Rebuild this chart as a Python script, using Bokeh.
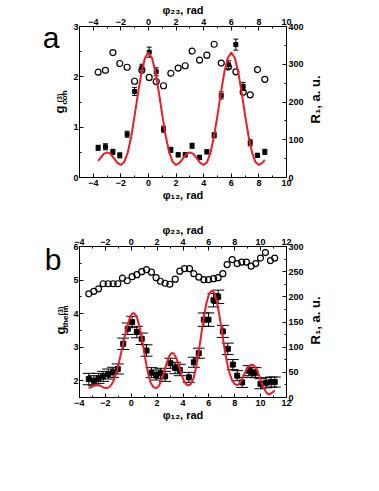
from bokeh.plotting import figure
from bokeh.models import Range1d, LinearAxis, FixedTicker, Whisker, TeeHead, ColumnDataSource, Label
from bokeh.layouts import column, row
from bokeh.embed import file_html
from bokeh.resources import INLINE

# ---------------- data: panel a ----------------
xa = [-3.65, -3.12, -2.58, -2.08, -1.55, -1.01, -0.48, 0.05, 0.56, 1.09, 1.62, 2.15,
      2.66, 3.16, 3.70, 4.23, 4.76, 5.27, 5.80, 6.33, 6.86, 7.37, 7.90, 8.43]
ga = [0.59, 0.61, 0.51, 0.44, 0.86, 1.71, 2.18, 2.49, 2.10, 0.96, 0.55, 0.45,
      0.45, 0.63, 0.40, 0.51, 0.84, 1.63, 2.24, 2.64, 1.81, 0.69, 0.44, 0.51]
ga_err = [0.05, 0.06, 0.05, 0.05, 0.06, 0.08, 0.07, 0.10, 0.08, 0.06, 0.05, 0.04,
          0.04, 0.05, 0.04, 0.04, 0.05, 0.07, 0.08, 0.11, 0.08, 0.06, 0.04, 0.05]
ra = [279, 284, 331, 302, 292, 255, 284, 265, 254, 243, 276, 290,
      296, 335, 311, 324, 353, 303, 293, 280, 226, 219, 286, 260]
xa_fit = [-3.65, -3.5, -3.25, -3.0, -2.75, -2.5, -2.25, -2.0, -1.75, -1.5, -1.25, -1.0,
          -0.75, -0.5, -0.25, 0.0, 0.25, 0.5, 0.75, 1.0, 1.25, 1.5, 1.75, 2.0, 2.25, 2.5,
          2.75, 3.0, 3.25, 3.5, 3.75, 4.0, 4.25, 4.5, 4.75, 5.0, 5.25, 5.5, 5.75, 6.0,
          6.25, 6.5, 6.75, 7.0, 7.25, 7.5, 7.75, 8.0, 8.25, 8.43]
ga_fit = [0.33, 0.38, 0.47, 0.50, 0.47, 0.38, 0.29, 0.25, 0.31, 0.50, 0.82, 1.24,
          1.69, 2.10, 2.38, 2.48, 2.38, 2.10, 1.69, 1.24, 0.82, 0.50, 0.31, 0.25, 0.29, 0.38,
          0.47, 0.50, 0.47, 0.38, 0.29, 0.25, 0.31, 0.50, 0.82, 1.24, 1.69, 2.10, 2.38, 2.48,
          2.38, 2.10, 1.69, 1.24, 0.82, 0.50, 0.31, 0.25, 0.29, 0.35]
xa_ticks = [-4, -2, 0, 2, 4, 6, 8, 10]
ga_ticks = [0, 1, 2, 3]
ra_ticks = [0, 100, 200, 300, 400]

# ---------------- data: panel b ----------------
xb_g = [-3.28, -2.89, -2.53, -2.17, -1.78, -1.40, -1.04, -0.62, -0.27, 0.07, 0.43, 0.81, 1.18,
        1.56, 1.93, 2.26, 2.62, 3.03, 3.39, 3.75, 4.45, 4.84, 5.22, 5.61, 5.97, 6.36, 6.72,
        7.08, 7.46, 7.85, 8.19, 8.57, 9.08, 9.35, 9.60, 9.99, 10.43, 10.81, 11.09]
gb = [2.05, 2.00, 2.07, 2.13, 2.20, 2.25, 2.35, 3.10, 3.55, 3.75, 3.45, 3.25, 2.90,
      2.24, 2.17, 2.22, 2.13, 2.52, 2.38, 2.32, 2.10, 2.55, 2.82, 3.82, 3.82, 4.40, 4.50,
      3.47, 2.95, 2.48, 2.15, 1.95, 2.30, 2.25, 2.24, 1.91, 1.94, 1.96, 1.96]
gb_err = [0.17, 0.15, 0.15, 0.15, 0.15, 0.15, 0.15, 0.17, 0.17, 0.17, 0.17, 0.17, 0.17,
          0.15, 0.15, 0.15, 0.15, 0.15, 0.17, 0.17, 0.15, 0.15, 0.15, 0.20, 0.20, 0.20, 0.20,
          0.18, 0.17, 0.15, 0.15, 0.15, 0.15, 0.15, 0.15, 0.15, 0.15, 0.15, 0.15]
xb_r = [-3.28, -2.89, -2.53, -2.17, -1.78, -1.40, -1.04, -0.68, -0.31, 0.07, 0.43, 0.81, 1.18,
        1.56, 1.92, 2.26, 2.62, 2.98, 3.40, 3.75, 4.12, 4.50, 4.84, 5.22, 5.61, 5.97, 6.36,
        6.72, 7.08, 7.41, 7.80, 8.19, 8.54, 8.90, 9.27, 9.62, 9.99, 10.37, 10.76, 11.09]
rb = [206, 211, 216, 226, 226, 226, 226, 237, 232, 240, 244, 250, 254,
      249, 238, 231, 227, 225, 235, 251, 256, 256, 246, 239, 234, 234, 236,
      238, 246, 264, 274, 266, 269, 269, 261, 266, 277, 288, 272, 277]
xb_fit = [-3.3, -3.1, -2.9, -2.7, -2.5, -2.3, -2.1, -1.9, -1.7, -1.5, -1.3, -1.1, -0.9, -0.7,
          -0.5, -0.3, -0.1, 0.05, 0.15, 0.3, 0.5, 0.7, 0.9, 1.1, 1.3, 1.5, 1.7, 1.93, 2.1, 2.3,
          2.5, 2.7, 2.9, 3.05, 3.16, 3.3, 3.5, 3.7, 3.9, 4.1, 4.3, 4.45, 4.6, 4.8, 5.0, 5.2,
          5.4, 5.6, 5.8, 6.0, 6.15, 6.25, 6.4, 6.6, 6.8, 7.0, 7.2, 7.4, 7.6, 7.8, 8.0, 8.19,
          8.4, 8.6, 8.8, 9.0, 9.2, 9.35, 9.5, 9.7, 9.9, 10.1, 10.3, 10.5, 10.63, 10.8, 11.0, 11.1]
gb_fit = [1.78, 1.81, 1.85, 1.88, 1.87, 1.83, 1.79, 1.78, 1.81, 1.90, 2.06, 2.30, 2.63, 2.97,
          3.33, 3.65, 3.88, 3.99, 4.02, 3.98, 3.82, 3.50, 3.08, 2.62, 2.22, 1.95, 1.81, 1.78, 1.82, 1.98,
          2.22, 2.48, 2.70, 2.80, 2.83, 2.80, 2.66, 2.42, 2.17, 1.97, 1.88, 1.86, 1.90, 2.06, 2.38, 2.82,
          3.35, 3.88, 4.30, 4.57, 4.66, 4.68, 4.62, 4.38, 3.98, 3.48, 2.98, 2.55, 2.22, 2.01, 1.90, 1.87,
          1.93, 2.08, 2.25, 2.39, 2.46, 2.48, 2.45, 2.33, 2.14, 1.92, 1.74, 1.62, 1.59, 1.62, 1.68, 1.71]
xb_ticks = [-4, -2, 0, 2, 4, 6, 8, 10, 12]
gb_ticks = [2, 3, 4, 5, 6]
rb_ticks = [0, 50, 100, 150, 200, 250, 300]

FONT = "Liberation Sans"
RED = "#ee1c25"
ROT = 1.5707963267948966
LEFT_W = 69      # left strip (panel letter, g label)
RIGHT_W = 40     # right strip (R1 label)


def style_axis(ax, ticks, minor, label="", standoff=2):
    ax.ticker = FixedTicker(ticks=ticks, minor_ticks=minor)
    ax.major_tick_in = 4
    ax.major_tick_out = 0
    ax.minor_tick_in = 2
    ax.minor_tick_out = 0
    ax.axis_line_color = "black"
    ax.major_tick_line_color = "black"
    ax.minor_tick_line_color = "black"
    ax.major_label_text_font = FONT
    ax.major_label_text_font_style = "bold"
    ax.major_label_text_font_size = "9px"
    ax.major_label_text_color = "black"
    ax.major_label_standoff = standoff
    ax.axis_label = label
    ax.axis_label_text_font = FONT
    ax.axis_label_text_font_style = "bold"
    ax.axis_label_text_font_size = "11px"
    ax.axis_label_text_color = "black"
    ax.axis_label_standoff = 0


def halves(ticks):
    return [(a + b) / 2 for a, b in zip(ticks[:-1], ticks[1:])]


def panel(height, xr, yr, rr, xt, yt, rt, bt, bb):
    p = figure(width=10 + 207 + 20, height=height, x_range=Range1d(*xr), y_range=Range1d(*yr),
               output_backend="svg", toolbar_location=None,
               min_border_left=10, min_border_right=20, min_border_top=bt, min_border_bottom=bb)
    p.extra_y_ranges = {"r": Range1d(*rr)}
    p.add_layout(LinearAxis(y_range_name="r"), "right")
    p.add_layout(LinearAxis(), "above")
    p.xgrid.visible = False
    p.ygrid.visible = False
    p.outline_line_color = "black"
    p.background_fill_color = "white"
    p.border_fill_color = "white"
    xminor = [xr[0] + i for i in range(int(xr[1] - xr[0]) + 1)]
    style_axis(p.below[0], xt, xminor, "\u03c6\u2081\u2082, rad")
    style_axis(p.above[0], xt, xminor, "\u03c6\u2082\u2083, rad")
    style_axis(p.left[0], yt, halves(yt) + ([yr[0]] if yr[0] < yt[0] else []), standoff=1)
    style_axis(p.right[0], rt, halves(rt))
    return p


def strip(width, height, bt, bb):
    # same top/bottom borders as the panel beside it, so the frame lines up with it
    s = figure(width=width, height=height, x_range=Range1d(0, 1), y_range=Range1d(0, 1),
               x_axis_type=None, y_axis_type=None, title=None,
               output_backend="svg", toolbar_location=None,
               min_border_left=0, min_border_right=0, min_border_top=bt, min_border_bottom=bb)
    s.outline_line_color = None
    s.background_fill_color = "white"
    s.border_fill_color = "white"
    return s


def add_errors(p, x, y, err, head, msize, marker):
    src = ColumnDataSource(dict(x=x, y=y,
                                up=[v + e for v, e in zip(y, err)],
                                lo=[v - e for v, e in zip(y, err)]))
    w = Whisker(source=src, base="x", upper="up", lower="lo", line_color="black", line_width=1,
                upper_head=TeeHead(size=head, line_color="black", line_width=1),
                lower_head=TeeHead(size=head, line_color="black", line_width=1))
    p.add_layout(w)
    p.scatter("x", "y", source=src, marker=marker, size=msize, fill_color="black", line_color="black")


def txt(p, fb, cx, cy, s, size, style="bold", angle=0.0):
    # (cx, cy): centre of the text in page pixels (y downward); fb: page y of the frame bottom
    p.add_layout(Label(x=cx, y=fb - cy, x_units="screen", y_units="screen", text=s, angle=angle,
                       text_font=FONT, text_font_size=size, text_font_style=style,
                       text_color="black", text_align="center", text_baseline="middle"))


# ---------------- panel a ----------------
HA, TA, BA = 203, 25, 26
FBA = HA - BA                      # page y of frame bottom (177)
pa = panel(HA, (-5, 10), (0, 3), (0, 400), xa_ticks, ga_ticks, ra_ticks, TA, BA)
pa.scatter(xa, ra, y_range_name="r", marker="circle", size=6, fill_alpha=0,
           line_color="black", line_width=1.2)
add_errors(pa, xa, ga, ga_err, 5, 4, "square")
pa.line(xa_fit, ga_fit, line_color=RED, line_width=2)

la = strip(LEFT_W, HA, TA, BA)
txt(la, FBA, 50.5, 37, "a", "30px", style="normal")
txt(la, FBA, 58.5, 109, "g", "13px", angle=ROT)
txt(la, FBA, 59, 97.5, "(3)", "7px", angle=ROT)
txt(la, FBA, 63.5, 97, "coh", "8px", angle=ROT)

rsa = strip(RIGHT_W, HA, TA, BA)
txt(rsa, FBA, 8.5, 99, "R\u2081, a. u.", "13px", angle=ROT)

# ---------------- panel b ----------------
HB, TB, BB = 220, 43, 26
FBB = HA + HB - BB                 # page y of frame bottom (397)
pb = panel(HB, (-4, 12), (1.5, 6), (0, 300), xb_ticks, gb_ticks, rb_ticks, TB, BB)
pb.scatter(xb_r, rb, y_range_name="r", marker="circle", size=6, fill_alpha=0,
           line_color="black", line_width=1.2)
add_errors(pb, xb_g, gb, gb_err, 12, 5, "square")
pb.line(xb_fit, gb_fit, line_color=RED, line_width=2)

lb = strip(LEFT_W, HB, TB, BB)
txt(lb, FBB, 52.5, 259, "b", "30px", style="normal")
txt(lb, FBB, 59.5, 330, "g", "13px", angle=ROT)
txt(lb, FBB, 59.5, 310.5, "(3)", "7px", angle=ROT)
txt(lb, FBB, 64.5, 316, "therm", "8px", angle=ROT)

rsb = strip(RIGHT_W, HB, TB, BB)
txt(rsb, FBB, 8.5, 320, "R\u2081, a. u.", "13px", angle=ROT)

layout = column(row(la, pa, rsa), row(lb, pb, rsb))
open("out.html", "w").write(file_html(layout, INLINE))
